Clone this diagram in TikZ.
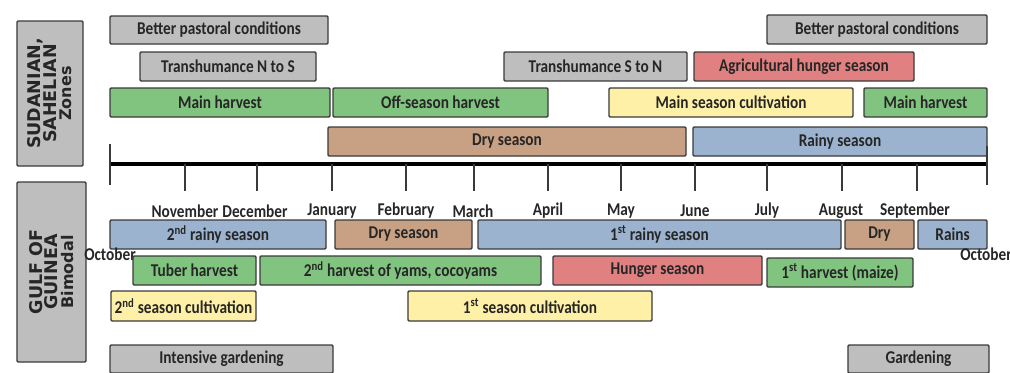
\documentclass[tikz,border=0pt]{standalone}
\usepackage{fontspec}
\newfontfamily\barfont[FakeStretch=0.85]{Carlito}
\newfontfamily\zonefont{DejaVu Sans}
\definecolor{bargray}{HTML}{BEBEBE}
\definecolor{bargreen}{HTML}{80C480}
\definecolor{bartan}{HTML}{C8A184}
\definecolor{barblue}{HTML}{9BB3CF}
\definecolor{baryellow}{HTML}{FFF0A8}
\definecolor{barred}{HTML}{E08080}
\definecolor{edgegray}{HTML}{3A3A3A}
\definecolor{inkgray}{HTML}{262626}
\newcommand{\seasonbar}[7]{%
  \node[bar, fill=#6, minimum width={(#4-#2)*1bp}, minimum height={(#5-#3)*1bp}] (#1) at ({(#2+#4)/2},{(#3+#5)/2}) {#7};}
\newcommand{\zonesmall}{\fontsize{16bp}{15.5bp}\selectfont}
\begin{document}
\begin{tikzpicture}[x=1bp,y=-1bp,
  bar/.style={draw=edgegray, line width=1.4bp, rounded corners=1.2bp, inner sep=0pt, text=inkgray,
    font=\barfont\bfseries\fontsize{18bp}{20bp}\selectfont},
  month/.style={text=inkgray, inner sep=0pt, font=\barfont\bfseries\fontsize{18bp}{20bp}\selectfont},
  zonebox/.style={draw=edgegray, line width=1.4bp, fill=bargray, rounded corners=1.2bp},
  zonetext/.style={rotate=90, align=center, text=inkgray, inner sep=0pt,
    font=\zonefont\bfseries\fontsize{17.5bp}{15.5bp}\selectfont}
]
\useasboundingbox (0,0) rectangle (1010,372);

% zone labels
\node[zonebox, minimum width=66bp, minimum height=145bp] (zone1) at (50,93.5) {};
\node[zonetext] (zone1t) at (zone1.center) {SUDANIAN,\\ SAHELIAN\\ \zonesmall Zones};
\node[zonebox, minimum width=69bp, minimum height=180bp] (zone2) at (51.5,272) {};
\node[zonetext] (zone2t) at (zone2.center) {GULF OF\\ GUINEA\\ \zonesmall Bimodal};

% top section
\seasonbar{bpc1}{110}{16}{328}{44}{bargray}{Better pastoral conditions}
\seasonbar{tns}{140}{52}{316}{81}{bargray}{Transhumance N to S}
\seasonbar{mh1}{110}{88}{330}{117}{bargreen}{Main harvest}
\seasonbar{osh}{333}{88}{548}{117}{bargreen}{Off-season harvest}
\seasonbar{drys}{328}{127}{686}{156}{bartan}{Dry season}
\seasonbar{tsn}{504}{52}{687}{81}{bargray}{Transhumance S to N}
\seasonbar{msc}{609}{88}{853}{117}{baryellow}{Main season cultivation}
\seasonbar{ahs}{694}{52}{914}{81}{barred}{Agricultural hunger season}
\seasonbar{bpc2}{767}{15}{987}{44}{bargray}{Better pastoral conditions}
\seasonbar{mh2}{864}{88}{987}{117}{bargreen}{Main harvest}
\seasonbar{rains}{693}{127}{987}{156}{barblue}{Rainy season}

% axis
\draw[line width=3.5bp, black] (110,164) -- (988,164);
\draw[line width=1.4bp, edgegray] (110,144) -- (110,185);
\draw[line width=1.4bp, edgegray] (987,146) -- (987,185);
\foreach \x in {185,257,332,406,474,548,621,695,767,842,917}
  \draw[line width=1.2bp, edgegray] (\x,164) -- (\x,191);

% months
\node[month] (m11) at (185,211) {November};
\node[month] (m12) at (255,211) {December};
\node[month] (m1) at (332,211) {January};
\node[month] (m2) at (406,211) {February};
\node[month] (m3) at (473,211) {March};
\node[month] (m4) at (548,211) {April};
\node[month] (m5) at (621,211) {May};
\node[month] (m6) at (695,211) {June};
\node[month] (m7) at (767,211) {July};
\node[month] (m8) at (841,211) {August};
\node[month] (m9) at (915,211) {September};

% bottom section
\seasonbar{rain2}{110}{220}{326}{249}{barblue}{2\textsuperscript{nd} rainy season}
\seasonbar{dry2}{335}{220}{472}{249}{bartan}{Dry season}
\seasonbar{rain1}{478}{220}{841}{249}{barblue}{1\textsuperscript{st} rainy season}
\seasonbar{dry3}{845}{220}{914}{249}{bartan}{Dry}
\seasonbar{rain3}{918}{220}{987}{249}{barblue}{Rains}
\node[month] (m10a) at (110,254) {October};
\node[month] (m10b) at (986,254) {October};
\seasonbar{tuber}{133}{256}{256}{285}{bargreen}{Tuber harvest}
\seasonbar{yams}{260}{256}{541}{285}{bargreen}{2\textsuperscript{nd} harvest of yams, cocoyams}
\seasonbar{hunger}{553}{256}{762}{285}{barred}{Hunger season}
\seasonbar{maize}{767}{258}{913}{287}{bargreen}{1\textsuperscript{st} harvest (maize)}
\seasonbar{cult2}{111}{291}{256}{321}{baryellow}{2\textsuperscript{nd} season cultivation}
\seasonbar{cult1}{408}{291}{652}{321}{baryellow}{1\textsuperscript{st} season cultivation}
\seasonbar{igard}{110}{345}{333}{373}{bargray}{Intensive gardening}
\seasonbar{gard}{848}{345}{989}{373}{bargray}{Gardening}
\end{tikzpicture}
\end{document}
